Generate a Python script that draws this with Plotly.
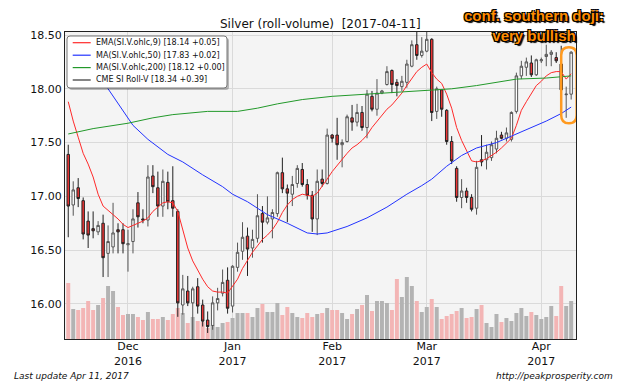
import plotly.graph_objects as go

# ---- data ----
opens = [17.39,16.92,17.08,16.96,16.77,16.70,16.67,16.75,16.47,16.53,16.69,16.69,16.55,16.58,16.94,16.79,16.78,17.19,17.08,16.91,
         17.13,16.96,16.86,15.99,16.12,16.01,16.16,15.99,15.85,15.80,16.01,16.10,16.22,15.98,16.34,16.49,16.63,16.52,16.61,16.84,
         16.76,16.79,16.84,17.22,17.07,17.02,17.12,17.25,17.11,17.01,16.79,17.16,17.12,17.57,17.57,17.48,17.51,17.73,17.69,17.78,
         17.64,17.93,17.81,17.96,18.04,18.17,18.06,18.02,18.06,18.21,18.41,18.31,18.35,18.46,17.79,17.99,17.80,17.51,17.26,16.99,
         17.05,16.99,16.89,17.34,17.34,17.36,17.44,17.57,17.54,17.53,17.79,18.12,18.20,18.24,18.13,18.26,18.30,18.32,18.29,18.23,
         17.945,17.95]
highs = [17.48,17.14,17.17,16.99,16.86,16.86,16.77,16.83,16.73,16.94,16.75,16.75,16.69,16.88,17.04,16.88,17.29,17.29,17.23,17.25,
         17.23,17.28,16.88,16.27,16.26,16.16,16.24,16.04,15.93,16.07,16.15,16.32,16.34,16.36,16.57,16.76,16.71,16.69,17.02,16.91,
         17.00,16.88,17.23,17.36,17.11,17.19,17.29,17.31,17.16,17.05,17.25,17.25,17.63,17.58,17.73,17.53,17.76,17.85,17.86,17.84,
         17.99,17.98,18.09,17.99,18.21,18.18,18.09,18.12,18.27,18.45,18.56,18.48,18.56,18.47,18.02,17.99,17.81,17.56,17.28,17.16,
         17.08,17.02,17.33,17.57,17.48,17.51,17.61,17.60,17.64,17.79,18.15,18.26,18.29,18.31,18.28,18.29,18.41,18.36,18.34,18.40,
         18.02,18.35]
lows = [16.62,16.82,16.90,16.60,16.52,16.61,16.64,16.25,16.25,16.47,16.47,16.47,16.30,16.47,16.71,16.75,16.72,17.03,16.81,16.81,
        16.88,16.81,15.88,15.90,15.98,15.60,15.91,15.79,15.73,15.76,15.94,16.07,15.91,15.92,16.30,16.41,16.26,16.43,16.57,16.57,
        16.74,16.61,16.81,17.03,16.76,16.91,17.08,17.09,16.97,16.67,16.64,17.09,17.11,17.50,17.34,17.27,17.50,17.61,17.65,17.61,
        17.54,17.79,17.75,17.95,18.03,17.96,17.93,17.98,18.01,18.20,18.27,18.29,18.34,17.70,17.72,17.74,17.48,17.30,16.95,16.89,
        16.94,16.86,16.83,17.28,17.25,17.33,17.40,17.53,17.51,17.51,17.77,18.09,18.12,18.11,18.12,18.24,18.21,18.21,18.24,17.98,
        17.73,17.90]
closes = [16.91,17.06,16.98,16.65,16.64,16.68,16.73,16.43,16.58,16.66,16.67,16.56,16.56,16.79,16.81,16.78,17.18,17.09,16.91,17.14,
          16.95,16.89,16.01,16.14,16.01,16.14,15.98,15.84,15.79,16.01,16.05,16.20,15.96,16.35,16.48,16.62,16.51,16.60,16.82,16.76,
          16.80,16.85,17.22,17.07,17.03,17.11,17.26,17.11,17.01,16.79,17.14,17.12,17.57,17.54,17.48,17.50,17.74,17.69,17.78,17.64,
          17.95,17.81,17.96,17.98,18.16,18.04,18.03,18.07,18.23,18.41,18.31,18.35,18.46,17.78,18.00,17.81,17.51,17.33,16.99,17.05,
          16.99,16.88,17.27,17.32,17.41,17.48,17.54,17.54,17.59,17.78,18.12,18.21,18.25,18.13,18.27,18.27,18.32,18.34,18.26,17.99,
          17.95,18.34]
volumes_k = [56,30,29,31,38,29,34,41,53,48,32,24,25,25,22,19,27,20,20,22,
             19,25,31,26,16,22,18,17,11,14,12,16,17,21,26,26,26,22,31,35,
             27,27,36,24,32,26,22,21,26,22,25,26,31,29,29,26,20,25,30,34,
             44,28,38,38,36,29,60,42,62,53,38,27,32,40,32,20,23,25,28,31,
             21,22,30,34,16,12,25,17,21,18,26,31,23,27,24,20,22,33,23,53,
             33,38]

ema9_x = list(range(102))
ema9 = [17.88,17.70,17.55,17.40,17.30,17.18,17.02,16.91,16.87,16.83,16.79,16.74,16.71,16.73,16.75,16.77,16.80,16.86,16.90,16.94,
        16.95,16.94,16.86,16.68,16.52,16.40,16.31,16.23,16.16,16.12,16.11,16.11,16.10,16.16,16.23,16.33,16.41,16.48,16.54,16.60,
        16.64,16.69,16.76,16.85,16.92,16.97,17.00,17.02,17.01,17.00,17.03,17.09,17.16,17.23,17.29,17.35,17.40,17.45,17.48,17.52,
        17.57,17.64,17.70,17.76,17.81,17.85,17.90,17.96,18.03,18.10,18.16,18.20,18.23,18.15,18.09,18.05,17.95,17.82,17.64,17.52,
        17.43,17.33,17.32,17.33,17.35,17.38,17.41,17.45,17.50,17.54,17.66,17.80,17.88,17.95,18.03,18.07,18.12,18.15,18.16,18.16,
        18.09,18.14]
ma50_x = [0,4,8,10,13,16,20,23,27,31,33,36,40,44,48,50,52,56,60,64,66,68,71,73,76,79,82,86,89,92,96,99,101]
ma50 = [18.42,18.25,18.00,17.86,17.66,17.53,17.39,17.32,17.20,17.09,17.02,16.95,16.83,16.75,16.66,16.65,16.66,16.72,16.80,16.90,
        16.96,17.02,17.10,17.16,17.28,17.38,17.45,17.50,17.56,17.62,17.70,17.77,17.83]
ma200_x = [0,5,12,17,21,28,34,38,42,47,53,60,66,72,77,82,86,90,96,101]
ma200 = [17.58,17.63,17.68,17.73,17.76,17.79,17.79,17.82,17.86,17.90,17.93,17.95,17.97,17.99,18.00,18.03,18.06,18.09,18.10,18.12]

tick_pos = [12, 33, 53, 72, 95]
tick_text = ["Dec<br>2016", "Jan<br>2017", "Feb<br>2017", "Mar<br>2017", "Apr<br>2017"]

names = ["EMA(SI.V.ohlc,9) [18.14 +0.05]", "MA(SI.V.ohlc,50) [17.83 +0.02]",
         "MA(SI.V.ohlc,200) [18.12 +0.00]", "CME SI Roll-V [18.34 +0.39]"]
legend_colors = ["#FF2A2A", "#2233FF", "#22992A", "#333333"]

# ---- figure ----
W, H = 640, 385
ML, MR, MT, MB = 65, 64, 32, 46
PW, PH = W - ML - MR, H - MT - MB


def px(x):
    return (x - ML) / PW


def py(y):
    return (H - MB - y) / PH


idx = list(range(len(opens)))
vol = [v * 1000 for v in volumes_k]
vol_colors = ["#B3B3B3" if c >= o else "#F3B5B5" for o, c in zip(opens, closes)]

FONT = "DejaVu Sans"
fig = go.Figure()
fig.add_trace(go.Bar(x=idx, y=vol, marker=dict(color=vol_colors, line=dict(width=0)),
                     width=0.8, yaxis="y", showlegend=False, hoverinfo="skip"))
fig.add_trace(go.Candlestick(x=idx, open=opens, high=highs, low=lows, close=closes, yaxis="y2",
                             increasing=dict(fillcolor="white", line=dict(color="#555555", width=1)),
                             decreasing=dict(fillcolor="#EE3535", line=dict(color="#222222", width=1)),
                             whiskerwidth=0, showlegend=False))
fig.add_trace(go.Scatter(x=ema9_x, y=ema9, mode="lines", line=dict(color=legend_colors[0], width=1), yaxis="y2", name=names[0]))
fig.add_trace(go.Scatter(x=ma50_x, y=ma50, mode="lines", line=dict(color=legend_colors[1], width=1), yaxis="y2", name=names[1]))
fig.add_trace(go.Scatter(x=ma200_x, y=ma200, mode="lines", line=dict(color=legend_colors[2], width=1), yaxis="y2", name=names[2]))

# highlight box around the last two sessions (derived from data)
n = len(opens) - 1
x0, x1 = n - 2.0, n + 1.1
y0, y1 = min(lows[-2:]) - 0.05, max(highs[-2:]) + 0.036
rx, ry = 1.55, 0.075
path = (f"M {x0+rx},{y1} L {x1-rx},{y1} Q {x1},{y1} {x1},{y1-ry} L {x1},{y0+ry} "
        f"Q {x1},{y0} {x1-rx},{y0} L {x0+rx},{y0} Q {x0},{y0} {x0},{y0+ry} "
        f"L {x0},{y1-ry} Q {x0},{y1} {x0+rx},{y1} Z")
fig.add_shape(type="path", path=path, xref="x", yref="y2", line=dict(color="#FF9A1F", width=2.5))


def rounded(xa, ya, xb, yb, r):
    # rounded rect in paper coords from pixel box
    X0, X1 = px(xa), px(xb)
    Y0, Y1 = py(yb), py(ya)
    rxp, ryp = r / PW, r / PH
    return (f"M {X0+rxp},{Y1} L {X1-rxp},{Y1} Q {X1},{Y1} {X1},{Y1-ryp} L {X1},{Y0+ryp} "
            f"Q {X1},{Y0} {X1-rxp},{Y0} L {X0+rxp},{Y0} Q {X0},{Y0} {X0},{Y0+ryp} "
            f"L {X0},{Y1-ryp} Q {X0},{Y1} {X0+rxp},{Y1} Z")


# legend (drawn manually to match compact matplotlib-like legend)
fig.add_shape(type="path", path=rounded(69, 38, 229, 90, 3), xref="paper", yref="paper",
              fillcolor="rgba(0,0,0,0.25)", line=dict(width=0), layer="above")
fig.add_shape(type="path", path=rounded(67, 36, 227, 88, 3), xref="paper", yref="paper",
              fillcolor="white", line=dict(color="#777777", width=1), layer="above")
row_y = [42.7, 55.2, 67.6, 80.0]
for name, col, ry_ in zip(names, legend_colors, row_y):
    fig.add_shape(type="line", x0=px(72.7), x1=px(90.7), y0=py(ry_), y1=py(ry_), xref="paper", yref="paper",
                  line=dict(color=col, width=1.2), layer="above")
    fig.add_annotation(text=name, xref="paper", yref="paper", x=px(94.3), y=py(ry_), xanchor="left",
                       yanchor="middle", showarrow=False, font=dict(size=8, family=FONT, color="#111111"))

fig.update_layout(
    width=W, height=H,
    margin=dict(l=ML, r=MR, t=MT, b=MB, autoexpand=False),
    paper_bgcolor="white", plot_bgcolor="#F4F4F4",
    font=dict(family=FONT, size=11, color="#111111"),
    showlegend=False,
    xaxis=dict(range=[-0.65, 101.97], tickmode="array", tickvals=tick_pos, ticktext=tick_text,
               showgrid=True, gridcolor="#DADADA", gridwidth=1, zeroline=False,
               showline=True, mirror=True, linecolor="#222222", linewidth=1, ticklabelstandoff=-3,
               ticks="", rangeslider=dict(visible=False), tickfont=dict(size=11)),
    yaxis=dict(range=[0, 307000], visible=False, showgrid=False, fixedrange=True),
    yaxis2=dict(range=[15.674, 18.528], overlaying="y", side="left", tickmode="linear", tick0=16, dtick=0.5,
                tickformat=".2f", showgrid=True, gridcolor="#DADADA", gridwidth=1, zeroline=False,
                showline=True, mirror=True, linecolor="#222222", linewidth=1, ticks="", tickfont=dict(size=11)),
)

fig.add_annotation(text="Silver (roll-volume)  [2017-04-11]", xref="paper", yref="paper", x=px(320.5), y=py(24),
                   xanchor="center", yanchor="middle", showarrow=False, font=dict(size=12, family=FONT, color="#111111"))
fig.add_annotation(text="conf. southern doji:<br>very bullish", xref="paper", yref="paper", x=px(534), y=py(26),
                   xanchor="center", yanchor="middle", align="center", showarrow=False,
                   font=dict(size=15, family="Liberation Sans", color="#FF8C00", weight="bold",
                             shadow="1px 1px 0 #000, -1px -1px 0 #000, 1px -1px 0 #000, -1px 1px 0 #000, 2px 2px 1px #000"))
fig.add_annotation(text="Last update Apr 11, 2017", xref="paper", yref="paper", x=px(12), y=py(376),
                   xanchor="left", yanchor="middle", showarrow=False, font=dict(size=9, family=FONT, style="italic"))
fig.add_annotation(text="http://peakprosperity.com", xref="paper", yref="paper", x=px(615), y=py(376),
                   xanchor="right", yanchor="middle", showarrow=False, font=dict(size=9, family=FONT, style="italic"))

fig.write_html("out.html", config={"displayModeBar": False},
               post_script="document.body.style.margin='0';document.body.style.padding='0';")
